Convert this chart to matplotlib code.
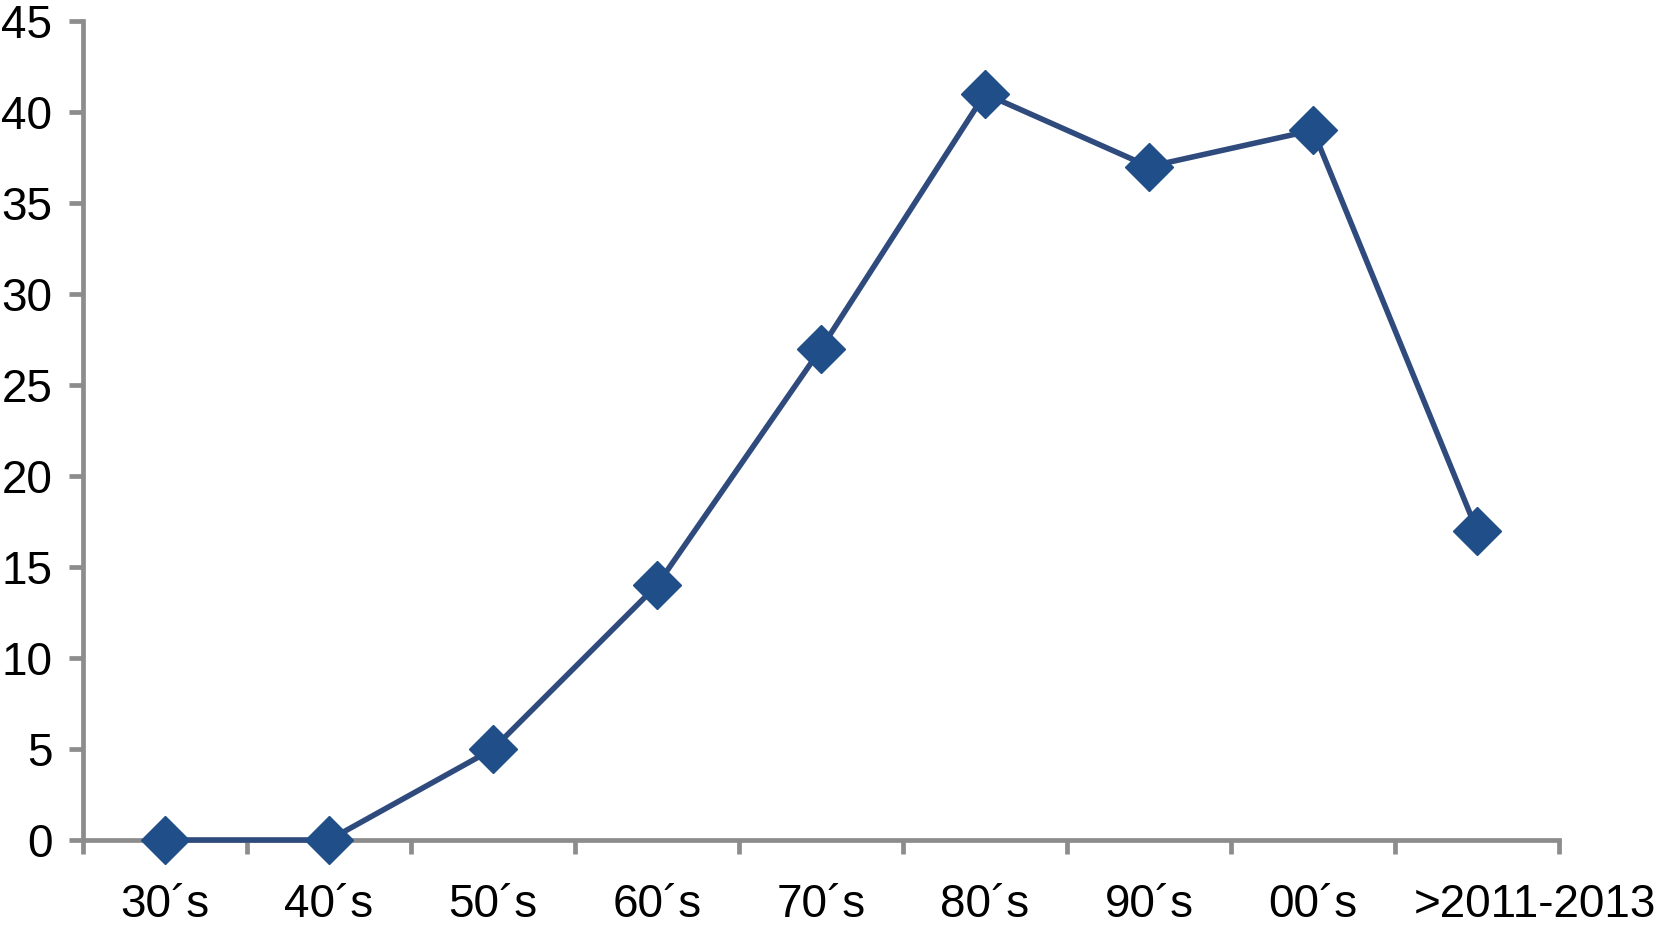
# Decades chart

import numpy as np
import matplotlib.pyplot as plt
import matplotlib.transforms as mtransforms

# Data
decades = ['30´s', '40´s', '50´s', '60´s', '70´s', '80´s', '90´s', '00´s', '>2011-2013']
counts = [0, 0, 5, 14, 27, 41, 37, 39, 17]
y_ticks = [0, 5, 10, 15, 20, 25, 30, 35, 40, 45]

plt.rcParams['font.family'] = ['Liberation Sans', 'DejaVu Sans']

def plot_decades():
    fig = plt.figure(figsize=(16.61, 9.26), dpi=100)
    ax = fig.add_axes([0.050, 0.0929, 0.8886, 0.8844])

    x = np.arange(len(decades)) + 0.5

    # line first, then diamonds on top
    ax.plot(x, counts, color='#2f4b7e', linewidth=4.0, zorder=3, clip_on=False)
    ax.plot(x, counts, linestyle='none', marker='D', markersize=24,
            color='#1f4e88', zorder=4, clip_on=False)

    ax.set_xlim(0, len(decades))
    ax.set_ylim(0, 45)

    # tick marks between categories, labels centered on categories
    ax.set_xticks(np.arange(len(decades) + 1))
    ax.set_xticklabels([])
    ax.set_xticks(x, minor=True)
    ax.set_xticklabels(decades, minor=True)
    ax.set_yticks(y_ticks)

    axis_color = '#8c8c8c'
    for side in ['top', 'right']:
        ax.spines[side].set_visible(False)
    for side in ['left', 'bottom']:
        ax.spines[side].set_color(axis_color)
        ax.spines[side].set_linewidth(3.4)

    ax.tick_params(axis='both', which='major', color=axis_color, width=3.4,
                   length=10, labelsize=33, labelcolor='black')
    ax.tick_params(axis='y', pad=12)
    ax.tick_params(axis='x', which='minor', length=0, labelsize=33, pad=31)

    # last label sits a bit to the right of its point, as in the original
    last = ax.get_xticklabels(minor=True)[-1]
    last.set_transform(last.get_transform() +
                       mtransforms.ScaledTranslation(0.58, 0, fig.dpi_scale_trans))

    fig.savefig('out.png', dpi=100)

plot_decades()
